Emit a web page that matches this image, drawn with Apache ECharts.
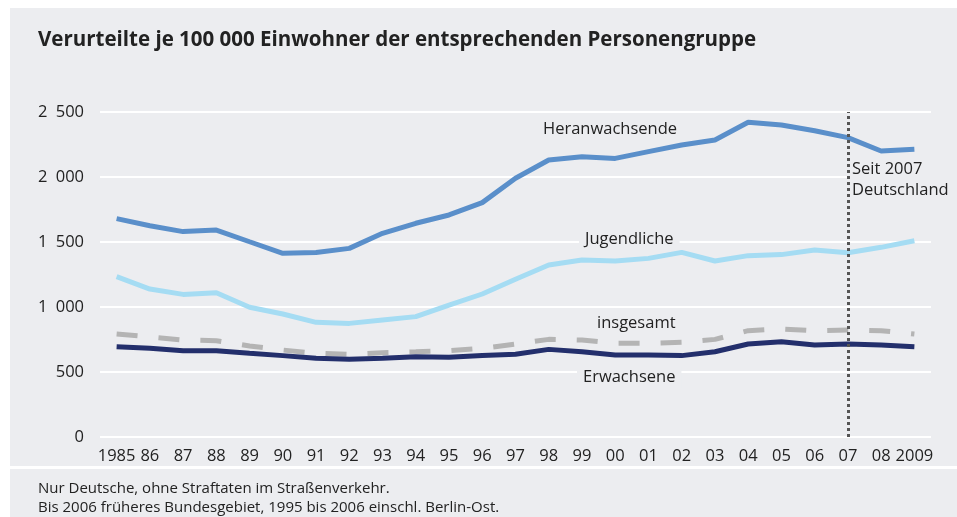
<!DOCTYPE html>
<html><head><meta charset="utf-8">
<script src="https://cdn.jsdelivr.net/npm/echarts@6/dist/echarts.min.js"></script>
<style>html,body{margin:0;padding:0;background:#fff}#c{width:957px;height:517px}</style>
</head><body><div id="c"></div>
<script>
var categories = ['1985','86','87','88','89','90','91','92','93','94','95','96','97','98','99','00','01','02','03','04','05','06','07','08','2009'];
var heranwachsende = [1680,1625,1580,1592,1502,1413,1420,1451,1567,1644,1708,1803,1990,2131,2156,2143,2195,2246,2285,2421,2400,2356,2303,2200,2213];
var jugendliche = [1233,1138,1097,1110,998,946,882,874,900,926,1015,1100,1213,1323,1362,1354,1374,1420,1354,1395,1403,1438,1418,1459,1510];
var insgesamt = [792,770,746,741,700,669,644,636,649,656,664,682,715,751,746,721,721,728,751,818,831,818,823,818,792];
var erwachsene = [695,682,664,664,644,626,605,598,605,618,613,626,636,674,656,631,631,626,656,715,733,708,715,708,695];
var yTicks = [0,500,1000,1500,2000,2500];

var BG = '#ecedf0';
var FONT = 'Open Sans';
var chart = echarts.init(document.getElementById('c'));
function lbl(text, x, y, padL) {
  var p = padL == null ? 6 : padL;
  return {type:'text', left:x, top:y, z:100, style:{text:text, fill:'#222', font:'16.5px "Open Sans"', backgroundColor:BG, padding:[0,6,0,p], lineHeight:21}};
}
chart.setOption({
  backgroundColor:'#ffffff',
  animation:false,
  graphic:[
    {type:'rect', z:-10, shape:{x:10, y:8, width:947, height:458}, style:{fill:BG}},
    {type:'rect', z:-10, shape:{x:10, y:469, width:947, height:48}, style:{fill:BG}},
    {type:'text', left:38, top:30, style:{text:'Verurteilte je 100 000 Einwohner der entsprechenden Personengruppe', fill:'#222', font:'bold 20.5px "Open Sans"'}},
    {type:'text', left:38, top:479, style:{text:'Nur Deutsche, ohne Straftaten im Straßenverkehr.\nBis 2006 früheres Bundesgebiet, 1995 bis 2006 einschl. Berlin-Ost.', fill:'#222', font:'15px "Open Sans"', lineHeight:19}},
    lbl('Heranwachsende', 537, 119),
    lbl('Jugendliche', 579, 229),
    lbl('insgesamt', 591, 313),
    lbl('Erwachsene', 577, 367),
    lbl('Seit 2007\nDeutschland', 850, 159, 2)
  ],
  grid:{left:100, right:26, top:112, bottom:80},
  xAxis:{type:'category', data:categories, boundaryGap:true,
    axisLine:{show:false}, axisTick:{show:false},
    axisLabel:{interval:0, color:'#222', fontFamily:FONT, fontSize:16.5, margin:11}},
  yAxis:{type:'value', min:0, max:2500, interval:500,
    axisLine:{show:false}, axisTick:{show:false},
    splitLine:{lineStyle:{color:'#ffffff', width:2}},
    axisLabel:{color:'#222', fontFamily:FONT, fontSize:16.5, margin:16,
      formatter:function(v){return yTicks.indexOf(v)>=0 ? String(v).replace(/\B(?=(\d{3})+(?!\d))/g,'\u2002') : '';}}},
  series:[
    {name:'insgesamt', type:'line', data:insgesamt, symbol:'none', z:2,
      lineStyle:{color:'#b4b4b4', width:5, type:[21,21], cap:'butt'}},
    {name:'Erwachsene', type:'line', data:erwachsene, symbol:'none', z:3,
      lineStyle:{color:'#232f6c', width:5}},
    {name:'Jugendliche', type:'line', data:jugendliche, symbol:'none', z:3,
      lineStyle:{color:'#a5dcf3', width:5}},
    {name:'Heranwachsende', type:'line', data:heranwachsende, symbol:'none', z:4,
      lineStyle:{color:'#5a8fca', width:5},
      markLine:{symbol:'none', silent:true, label:{show:false},
        lineStyle:{color:'#555', width:3, type:[3,3]},
        data:[{xAxis:'07'}]}}
  ]
});
</script></body></html>
